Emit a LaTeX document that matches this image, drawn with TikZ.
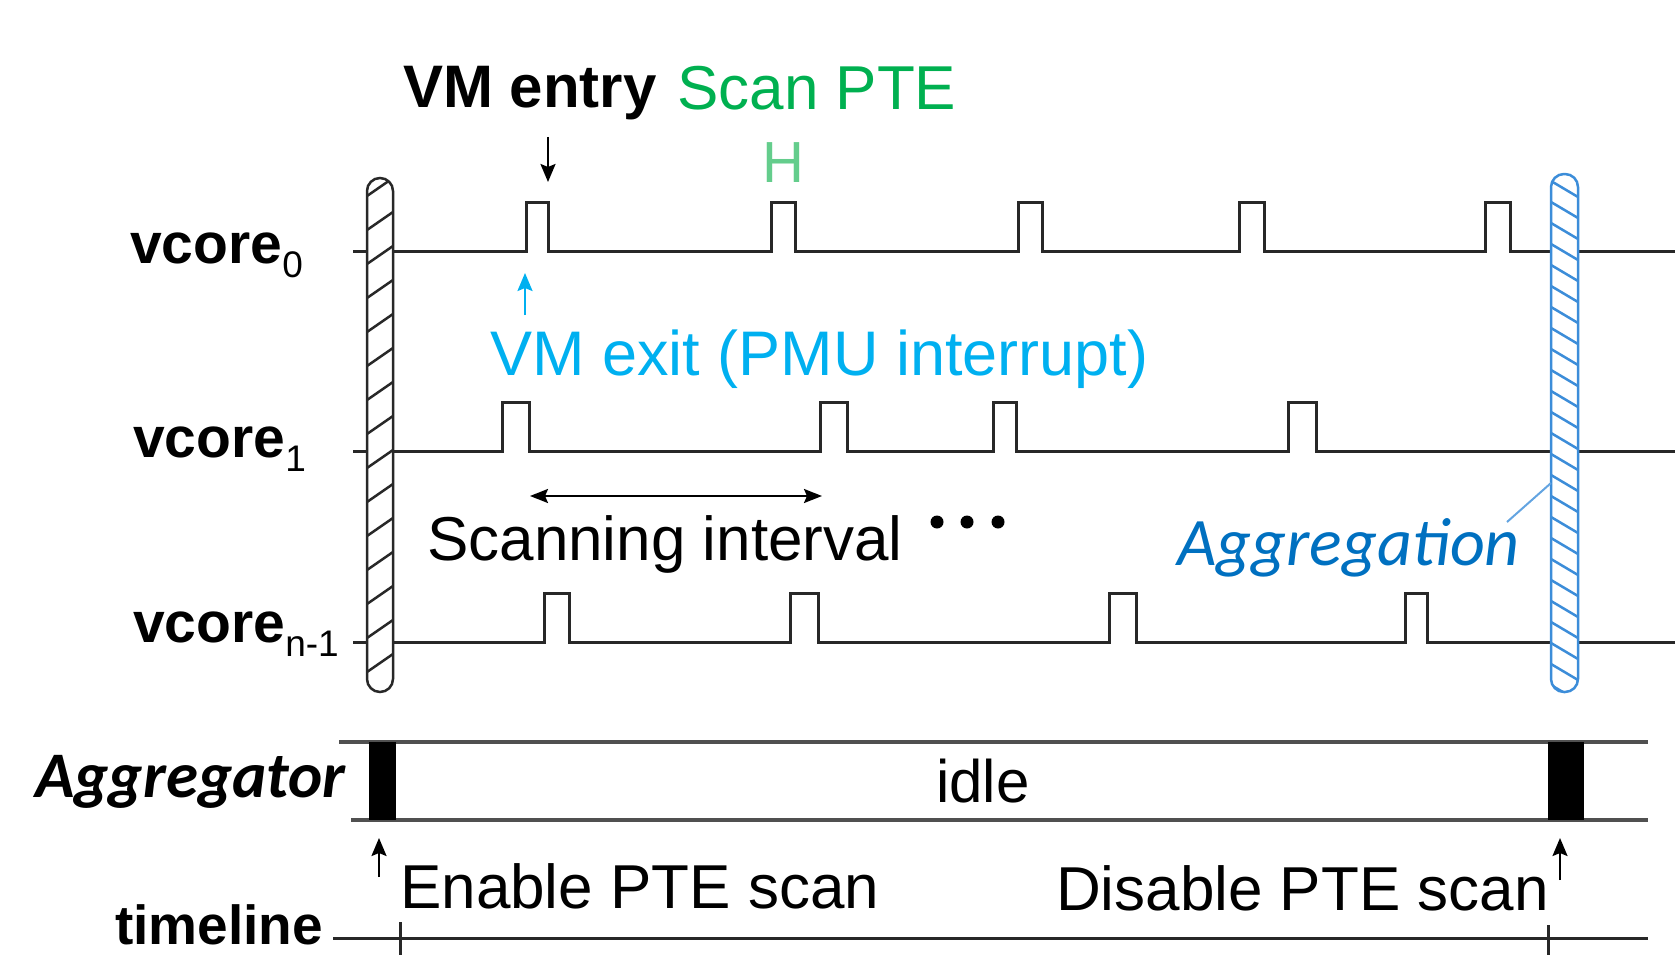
\documentclass[tikz,border=0pt]{standalone}
\usepackage{fontspec}
\setmainfont{Liberation Sans}
\newfontfamily\calibfont{Carlito}
\usetikzlibrary{arrows.meta}
\definecolor{sigc}{RGB}{40,40,40}
\definecolor{aglc}{RGB}{80,80,80}
\definecolor{pgreen}{RGB}{0,176,80}
\definecolor{lgreen}{RGB}{100,205,140}
\definecolor{pcyan}{RGB}{0,176,240}
\definecolor{pblue}{RGB}{0,112,192}
\definecolor{bblue}{RGB}{60,141,217}
\newcommand{\fsz}[1]{\fontsize{#1pt}{#1pt}\selectfont}
\begin{document}
\begin{tikzpicture}[x=1pt,y=-1pt,
  sig/.style={line width=3pt,draw=sigc},
  agl/.style={line width=3.5pt,draw=aglc},
  lbl/.style={inner sep=0pt,anchor=base west},
  arr/.style={line width=2.2pt,-{Stealth[length=18pt,width=15pt,inset=3pt]}},
  hatchline/.style={line width=2.5pt},
]
\useasboundingbox (0,0) rectangle (1675,955);

% signal rows
\draw[sig] (353,251) \foreach \a/\b in {526/548,771/795,1018/1042,1239/1264,1485/1510}{ -- (\a,251) -- (\a,202) -- (\b,202) -- (\b,251)} -- (1675,251);
\draw[sig] (353,451) \foreach \a/\b in {502/529,820/847,993/1016,1288/1316}{ -- (\a,451) -- (\a,402) -- (\b,402) -- (\b,451)} -- (1675,451);
\draw[sig] (353,642) \foreach \a/\b in {544/569,790/818,1109/1136,1405/1427}{ -- (\a,642) -- (\a,593) -- (\b,593) -- (\b,642)} -- (1675,642);

% left barrier
\begin{scope}
  \fill[white,rounded corners=13pt] (367,178) rectangle (393,692);
  \clip[rounded corners=13pt] (367,178) rectangle (393,692);
  \foreach \k in {0,...,16} \draw[hatchline,draw=sigc] (367,{178+34*\k+18}) -- (393,{178+34*\k});
\end{scope}
\draw[hatchline,draw=sigc,rounded corners=13pt] (367,178) rectangle (393,692);

% right barrier
\begin{scope}
  \fill[white,rounded corners=13pt] (1551,174) rectangle (1578,692);
  \clip[rounded corners=13pt] (1551,174) rectangle (1578,692);
  \foreach \k in {0,...,26} \draw[hatchline,draw=bblue] (1551,{160+21*\k}) -- (1578,{160+21*\k+16});
\end{scope}
\draw[hatchline,draw=bblue,rounded corners=13pt] (1551,174) rectangle (1578,692);

% row labels
\node[lbl] (v0) at (130,263) {\fsz{57}\bfseries vcore\raisebox{-14pt}{\fsz{37}\mdseries 0}};
\node[lbl] (v1) at (133,457) {\fsz{57}\bfseries vcore\raisebox{-14pt}{\fsz{37}\mdseries 1}};
\node[lbl] (vn) at (133,642) {\fsz{57}\bfseries vcore\raisebox{-14pt}{\fsz{37}\mdseries n-1}};

% top labels
\node[lbl] (entry) at (403,108) {\fsz{60}\bfseries VM entry};
\node[lbl,text=pgreen] (scan) at (677,110) {\fsz{62}Scan PTE};
\node[inner sep=0pt,anchor=base,text=lgreen] (hmark) at (783,182) {\fsz{58}H};
\coordinate (entryA) at (548,137);
\coordinate (entryB) at (548,182);
\draw[arr] (entryA) -- (entryB);

\coordinate (exitA) at (525,315);
\coordinate (exitB) at (525,273);
\draw[arr,pcyan] (exitA) -- (exitB);
\node[lbl,text=pcyan] (exit) at (490,375) {\fsz{63}VM exit (PMU interrupt)};

% scanning interval
\coordinate (siA) at (530,496);
\coordinate (siB) at (822,496);
\draw[line width=2.2pt,{Stealth[length=18pt,width=14pt,inset=3pt]}-{Stealth[length=18pt,width=14pt,inset=3pt]}] (siA) -- (siB);
\node[lbl] (si) at (427,560) {\fsz{62}Scanning interval};
\foreach \x in {937,967,998} \fill (\x,522) circle (6.5pt);

% aggregation label
\node[lbl,text=pblue] (aggl) at (1177,565) {\fsz{68}\calibfont\itshape Aggregation};
\coordinate (aggA) at (1507,522);
\coordinate (aggB) at (1551,483);
\draw[line width=2pt,draw=bblue!80] (aggA) -- (aggB);

% aggregator band
\draw[agl] (339,742) -- (1648,742);
\draw[agl] (351,820) -- (1648,820);
\fill (369,742) rectangle (396,820);
\fill (1548,742) rectangle (1584,820);
\node[lbl] (aggr) at (35,797) {\fsz{65}\calibfont\bfseries\itshape Aggregator};
\node[inner sep=0pt,anchor=base] (idle) at (983,802) {\fsz{60}idle};

% enable / disable
\coordinate (enA) at (379,877);
\coordinate (enB) at (379,838);
\draw[arr] (enA) -- (enB);
\node[lbl] (en) at (400,908) {\fsz{62}Enable PTE scan};
\coordinate (disA) at (1560,880);
\coordinate (disB) at (1560,838);
\draw[arr] (disA) -- (disB);
\node[inner sep=0pt,anchor=base east] (dis) at (1549,910) {\fsz{62}Disable PTE scan};

% timeline
\draw[sig] (333,938) -- (1648,938);
\draw[sig] (400,922) -- (400,962);
\draw[sig] (1548,925) -- (1548,962);
\node[lbl] (tl) at (115,944) {\fsz{55}\bfseries timeline};
\end{tikzpicture}
\end{document}
